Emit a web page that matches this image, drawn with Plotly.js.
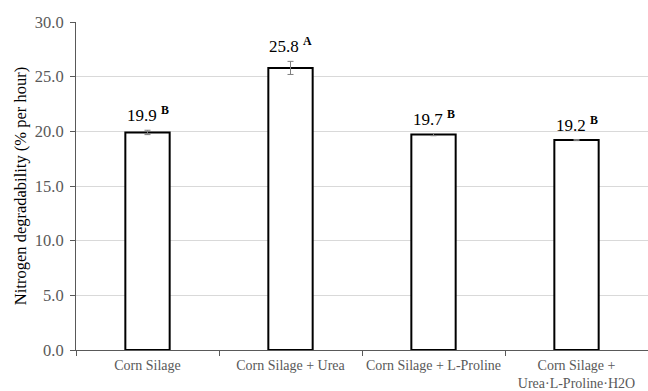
<!DOCTYPE html>
<html>
<head>
<meta charset="utf-8">
<script src="https://cdn.plot.ly/plotly-3.0.1.min.js"></script>
<style>html,body{margin:0;padding:0;background:#fff;}#chart{width:648px;height:391px;}</style>
</head>
<body>
<div id="chart"></div>
<script>
var categories = ["Corn Silage", "Corn Silage + Urea", "Corn Silage + L-Proline", "Corn Silage +<br>Urea·L-Proline·H2O"];
var values = [19.9, 25.8, 19.7, 19.2];
var errors = [0.2, 0.6, 0.1, 0.05];
var letters = ["B", "A", "B", "B"];
var yTicks = [0, 5, 10, 15, 20, 25, 30];

var serif = "'Liberation Serif', 'Times New Roman', serif";

var trace = {
  type: "bar",
  x: categories,
  y: values,
  width: 0.31,
  marker: {color: "#ffffff", line: {color: "#000000", width: 2}},
  error_y: {type: "data", array: errors, visible: true, color: "#7f7f7f", thickness: 1, width: 3},
  hoverinfo: "skip"
};

var annotations = categories.map(function(c, i) {
  return {
    x: c, y: values[i] + errors[i], xref: "x", yref: "y",
    text: values[i].toFixed(1) + " <b><sup>" + letters[i] + "</sup></b>",
    showarrow: false, yanchor: "bottom", yshift: 3,
    font: {family: serif, size: 17, color: "#000000"}
  };
});

var layout = {
  width: 648, height: 391,
  margin: {l: 76, r: 0, t: 22, b: 41},
  paper_bgcolor: "#ffffff", plot_bgcolor: "#ffffff",
  showlegend: false,
  font: {family: serif},
  xaxis: {
    type: "category",
    showgrid: false,
    showline: true, linecolor: "#595959", linewidth: 1,
    ticks: "outside", tickson: "boundaries", ticklen: 5, tickcolor: "#595959",
    tickangle: 0,
    ticklabelstandoff: 2,
    tickfont: {family: serif, size: 14, color: "#595959"},
    fixedrange: true
  },
  yaxis: {
    range: [0, 30],
    tickvals: yTicks,
    ticktext: yTicks.map(function(v){return v.toFixed(1);}),
    showgrid: true, gridcolor: "#d9d9d9", gridwidth: 1,
    zeroline: false,
    showline: true, linecolor: "#595959", linewidth: 1,
    ticks: "outside", ticklen: 5, tickcolor: "#595959",
    ticklabelstandoff: 3,
    tickfont: {family: serif, size: 16.5, color: "#595959"},
    title: {text: "Nitrogen degradability (% per hour)", font: {family: serif, size: 16.5, color: "#000000"}, standoff: 4},
    fixedrange: true
  },
  annotations: annotations
};

Plotly.newPlot("chart", [trace], layout, {displayModeBar: false, staticPlot: true});
</script>
</body>
</html>
